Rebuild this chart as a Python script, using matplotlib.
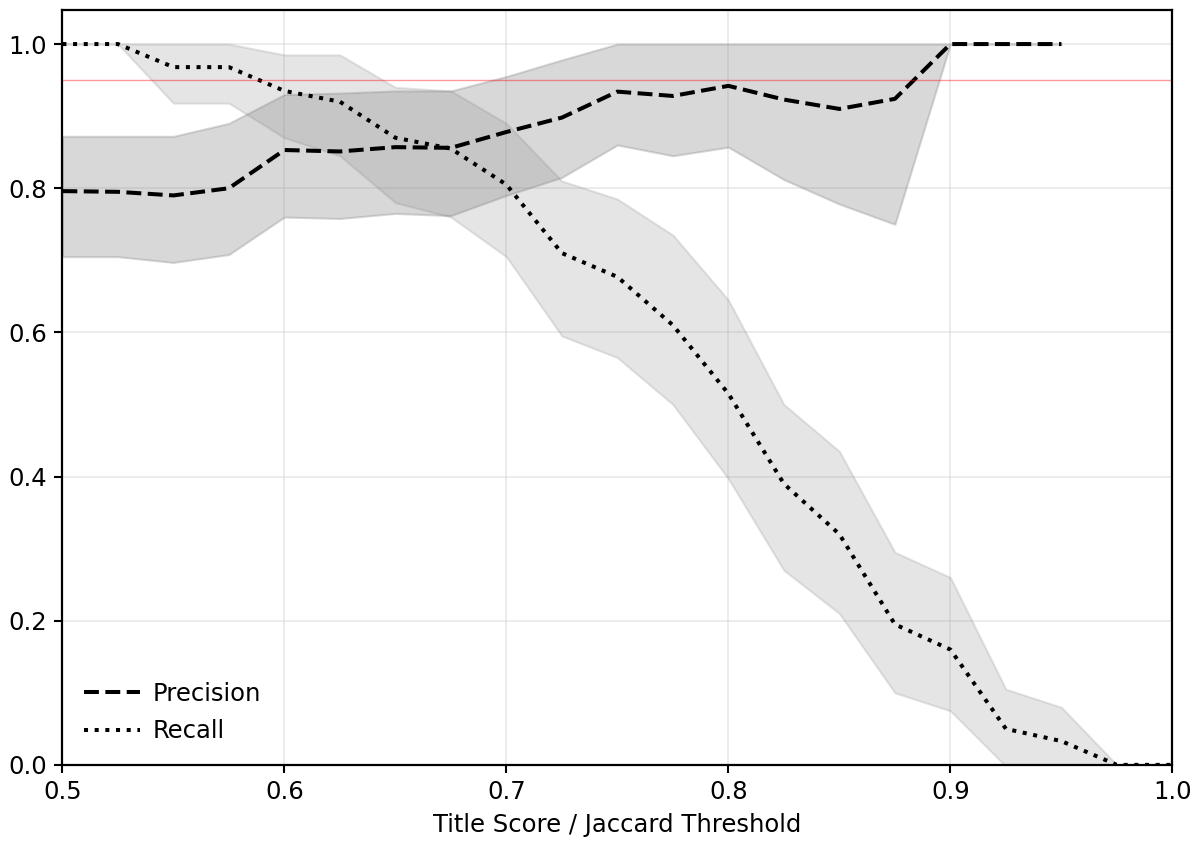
import matplotlib
matplotlib.use("Agg")
import matplotlib.pyplot as plt
import numpy as np

# Thresholds (steps of 0.025)
thresholds = [0.5, 0.525, 0.55, 0.575, 0.6, 0.625, 0.65, 0.675, 0.7, 0.725, 0.75,
              0.775, 0.8, 0.825, 0.85, 0.875, 0.9, 0.925, 0.95, 0.975, 1.0]

# Precision mean and band (no values past 0.95)
precision = [0.796, 0.795, 0.790, 0.800, 0.853, 0.851, 0.857, 0.856, 0.878, 0.898, 0.934,
             0.928, 0.942, 0.923, 0.910, 0.924, 1.0, 1.0, 1.0, np.nan, np.nan]
precision_low = [0.705, 0.705, 0.697, 0.708, 0.760, 0.758, 0.765, 0.762, 0.790, 0.815, 0.860,
                 0.845, 0.857, 0.812, 0.778, 0.750, 1.0, 1.0, 1.0, np.nan, np.nan]
precision_high = [0.872, 0.872, 0.872, 0.890, 0.930, 0.932, 0.935, 0.935, 0.955, 0.978, 1.0,
                  1.0, 1.0, 1.0, 1.0, 1.0, 1.0, 1.0, 1.0, np.nan, np.nan]

# Recall mean and band
recall = [1.0, 1.0, 0.968, 0.968, 0.935, 0.920, 0.870, 0.855, 0.805, 0.710, 0.677,
          0.610, 0.515, 0.390, 0.320, 0.195, 0.160, 0.050, 0.033, 0.0, 0.0]
recall_low = [1.0, 1.0, 0.918, 0.918, 0.870, 0.845, 0.780, 0.760, 0.705, 0.595, 0.565,
              0.500, 0.397, 0.270, 0.210, 0.100, 0.075, -0.002, -0.02, 0.0, 0.0]
recall_high = [1.0, 1.0, 1.0, 1.0, 0.985, 0.985, 0.940, 0.935, 0.890, 0.810, 0.785,
               0.735, 0.645, 0.500, 0.435, 0.295, 0.260, 0.105, 0.080, 0.0, 0.0]

target_level = 0.95

fig = plt.figure(figsize=(12, 8.48), dpi=100)
ax = fig.add_axes([0.052, 0.098, 0.925, 0.89])

ax.fill_between(thresholds, precision_low, precision_high, color='gray', alpha=0.3, linewidth=1.5)
ax.fill_between(thresholds, recall_low, recall_high, color='gray', alpha=0.2, linewidth=1.5)
ax.plot(thresholds, precision, 'k--', linewidth=2.9, label='Precision')
ax.plot(thresholds, recall, 'k:', linewidth=2.9, label='Recall')
ax.axhline(target_level, color='red', alpha=0.4, linewidth=1.0)

ax.set_xlim(0.5, 1.0)
ax.set_ylim(0, 1.047)
ax.set_xticks([0.5, 0.6, 0.7, 0.8, 0.9, 1.0])
ax.set_yticks([0.0, 0.2, 0.4, 0.6, 0.8, 1.0])
ax.grid(True, color='lightgray', alpha=0.5, linewidth=1.2)
ax.set_axisbelow(True)
ax.tick_params(labelsize=17.5, width=1.5, length=6, pad=5)
for s in ax.spines.values():
    s.set_linewidth(1.6)
ax.set_xlabel('Title Score / Jaccard Threshold', fontsize=17.5, labelpad=6)
ax.legend(loc='lower left', frameon=False, fontsize=17.5, borderaxespad=0.5,
          handlelength=2.3, handletextpad=0.5, labelspacing=0.55)

fig.savefig('out.png', dpi=100)
